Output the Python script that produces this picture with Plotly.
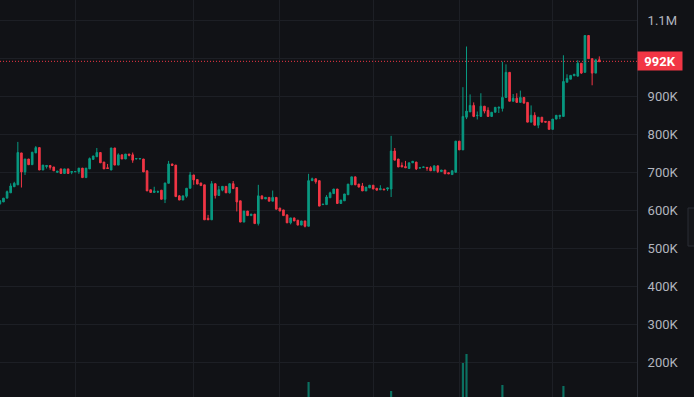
import plotly.graph_objects as go

opens = [617,622,632,646,662,667,751,701,735,720,
         751,765,706,715,718,714,700,709,697,709,
         700,701,702,711,686,709,734,741,752,727,
         712,706,764,719,746,735,748,746,735,735,
         735,704,654,647,648,653,629,671,722,719,
         638,627,637,658,693,681,672,667,579,575,
         670,639,653,663,646,670,660,625,569,598,
         586,590,565,638,630,634,624,634,606,601,
         588,567,580,574,561,572,558,678,683,678,
         615,615,633,644,656,618,625,641,667,688,
         669,664,651,659,666,658,654,656,656,656,
         756,735,718,715,710,725,727,711,713,713,
         712,704,717,702,706,699,694,700,782,759,
         845,859,876,849,847,874,863,847,858,869,
         868,897,963,887,895,884,897,884,832,850,
         824,845,834,834,813,840,847,847,937,945,
         954,953,987,963,1060,999,961,996]
highs = [627,632,652,671,675,780,751,735,735,753,
         769,765,719,718,718,714,703,709,709,709,
         702,702,711,711,711,739,743,764,752,727,
         722,764,764,750,746,748,748,752,736,736,
         735,704,654,662,652,653,672,730,722,719,
         640,638,658,701,693,681,672,667,588,677,
         670,664,663,663,670,677,660,625,598,598,
         590,590,667,638,634,634,652,634,606,601,
         588,580,580,574,572,572,696,686,683,678,
         616,640,649,656,656,627,643,669,688,688,
         669,672,661,666,666,658,666,656,659,796,
         764,735,726,730,725,729,727,712,714,713,
         716,717,717,706,706,699,704,782,782,924,
         1031,905,884,860,908,874,871,858,871,873,
         991,984,963,906,908,915,897,884,876,858,
         845,845,834,834,840,850,850,1008,958,955,
         958,995,987,1060,1060,999,996,1005]
lows = [615,622,632,646,662,667,660,693,720,720,
        751,706,706,710,707,704,698,697,697,697,
        695,701,696,686,686,709,734,741,725,709,
        710,706,719,719,735,735,742,725,735,735,
        701,651,647,647,646,629,619,671,718,636,
        627,627,633,658,667,669,665,575,575,575,
        631,639,650,646,644,657,597,569,569,586,
        586,565,560,630,630,624,624,603,598,586,
        567,563,572,561,561,555,558,678,670,611,
        615,615,633,644,618,618,625,641,667,667,
        661,651,651,659,656,653,654,654,651,635,
        732,714,714,712,710,725,706,711,713,704,
        704,704,698,702,696,696,694,700,759,759,
        840,859,845,839,847,855,847,847,858,856,
        860,897,887,887,884,884,882,832,832,824,
        816,832,832,813,813,840,840,847,937,945,
        954,953,959,963,999,929,961,991]
closes = [625,632,649,664,671,752,701,735,720,753,
          765,706,719,718,713,704,703,697,709,697,
          702,702,711,686,711,736,743,752,725,709,
          710,764,719,746,735,748,745,732,736,736,
          701,651,647,651,649,629,672,722,718,636,
          627,638,658,693,680,669,665,575,575,670,
          639,654,663,646,670,657,622,569,598,586,
          590,565,638,630,634,624,634,603,598,586,
          567,580,572,561,572,558,678,683,675,611,
          616,635,646,656,618,627,643,669,688,667,
          661,651,661,666,656,653,657,654,659,756,
          732,714,714,712,725,729,709,712,714,711,
          704,717,702,706,696,696,704,782,759,847,
          861,876,847,850,874,861,847,858,871,871,
          897,963,887,895,884,897,882,832,850,824,
          845,832,832,813,840,850,850,939,947,955,
          958,987,961,1060,999,961,996,991]
volumes = [90,110,150,160,120,380,240,180,100,190,
           140,250,110,60,70,90,50,100,110,100,
           60,40,90,150,160,170,100,140,160,120,
           70,300,260,150,90,110,60,120,40,40,
           200,260,80,70,50,140,220,280,60,300,
           100,90,130,200,120,100,80,350,90,380,
           210,120,100,120,150,110,240,250,180,100,
           60,170,300,70,50,90,100,180,80,110,
           150,100,70,110,90,120,580,80,70,270,
           40,130,110,100,200,80,120,170,150,160,
           70,90,80,60,80,50,40,40,60,490,
           200,170,70,60,110,60,150,30,30,40,
           70,100,120,50,90,40,80,400,200,770,
           860,180,230,120,220,130,160,100,120,90,
           550,420,380,90,110,130,150,280,180,220,
           200,100,40,170,230,110,60,540,120,110,
           60,260,200,410,350,300,260,90]
last_price = 992
y_ticks = [200, 300, 400, 500, 600, 700, 800, 900, 1000, 1100]
y_tick_labels = ["200K", "300K", "400K", "500K", "600K", "700K", "800K", "900K", "", "1.1M"]
time_grid = [21, 54, 78, 104, 128, 154]

GREEN = "#089981"
RED = "#f23645"
BG = "#111216"
GRID = "#1d1f25"

x = list(range(len(opens)))
vol_colors = ["rgba(8,153,129,0.7)" if c >= o else "rgba(242,54,69,0.7)" for o, c in zip(opens, closes)]

fig = go.Figure()
fig.add_trace(go.Bar(x=x, y=volumes, marker=dict(color=vol_colors, line=dict(width=0)),
                     width=0.6, yaxis="y2", showlegend=False, hoverinfo="skip"))
fig.add_trace(go.Candlestick(
    x=x, open=opens, high=highs, low=lows, close=closes,
    increasing=dict(line=dict(color=GREEN, width=1), fillcolor=GREEN),
    decreasing=dict(line=dict(color=RED, width=1), fillcolor=RED),
    whiskerwidth=0, showlegend=False))

fig.add_shape(type="line", xref="paper", x0=0, x1=1, yref="y", y0=last_price, y1=last_price,
              line=dict(color=RED, width=1, dash="1px,2px"))
fig.add_annotation(xref="paper", x=1, xanchor="left", yref="y", y=last_price,
                   text="<b>992K</b>", showarrow=False, bgcolor=RED,
                   font=dict(color="white", size=13, family="Roboto"),
                   borderpad=2, width=40, height=14, align="center")
fig.add_shape(type="rect", xref="paper", yref="paper",
              x0=688/637, x1=700/637, y0=1-246/397, y1=1-208/397,
              line=dict(color="#2a2d35", width=1), fillcolor="#15161a", layer="above")

fig.update_layout(
    width=694, height=397,
    margin=dict(l=0, r=57, t=0, b=0),
    paper_bgcolor=BG, plot_bgcolor=BG,
    boxgap=0.35,
    xaxis=dict(range=[0.03, 177.5], rangeslider=dict(visible=False), tickvals=time_grid,
               showticklabels=False, showgrid=True, gridcolor=GRID, gridwidth=1,
               zeroline=False, showline=False, fixedrange=True),
    yaxis=dict(side="right", range=[108.7, 1153.4], tickvals=y_ticks, ticktext=y_tick_labels,
               showgrid=True, gridcolor=GRID, gridwidth=1, zeroline=False,
               showline=True, linecolor="#2a2d35", linewidth=1,
               tickfont=dict(color="#b2b5be", size=13, family="Roboto"),
               ticks="", ticklabelstandoff=7),
    yaxis2=dict(overlaying="y", range=[430, 4400], showticklabels=False, showgrid=False,
                zeroline=False, visible=False),
    font=dict(family="Roboto"),
)

fig.write_html("out.html", config={"displayModeBar": False},
               post_script="document.body.style.margin='0px';document.body.style.background='#111216';")
